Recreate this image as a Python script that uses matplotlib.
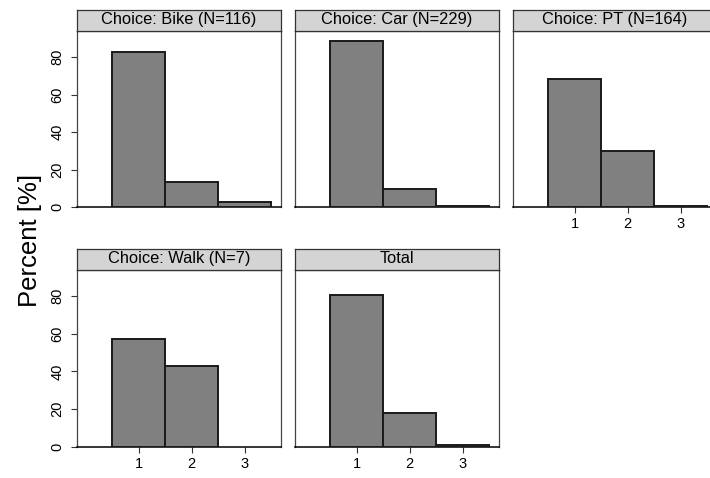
import matplotlib
matplotlib.use("Agg")
import matplotlib.pyplot as plt

# share of respondents per category (percent), one list per panel
categories = [1, 2, 3]
panel_titles = ["Choice: Bike (N=116)", "Choice: Car (N=229)", "Choice: PT (N=164)",
                "Choice: Walk (N=7)", "Total"]
bike = [82.6, 13.3, 2.9]
car = [88.9, 9.6, 0.5]
pt = [68.1, 30.0, 0.8]
walk = [57.1, 42.9, 0.0]
total = [80.5, 17.8, 1.2]
yticks = [0, 20, 40, 60, 80]

plt.rcParams['font.family'] = ['Liberation Sans', 'DejaVu Sans']

W, H = 710, 478
fig = plt.figure(figsize=(W / 100, H / 100), dpi=100)


def px_axes(x0, y0, x1, y1):
	return fig.add_axes([x0 / W, 1 - y1 / H, (x1 - x0) / W, (y1 - y0) / H])


cols = [(76.5, 281), (294.5, 499), (512.5, 717)]
rows = [(9.5, 31, 207), (248.5, 269.5, 447)]
# (values, col, row, show y ticks, show x ticks)
layout = [
	(bike, 0, 0, True, False),
	(car, 1, 0, False, False),
	(pt, 2, 0, False, True),
	(walk, 0, 1, True, True),
	(total, 1, 1, False, True),
]

for (vals, c, r, showy, showx), title in zip(layout, panel_titles):
	x0, x1 = cols[c]
	st, top, bot = rows[r]
	ax = px_axes(x0, top, x1, bot)
	bars = ax.bar(categories, vals, width=1.0, color='#808080', edgecolor='#1a1a1a',
		linewidth=1.4, zorder=3)
	for b, v in zip(bars, vals):
		if v == 0:
			b.set_linewidth(0)
	ax.set_xlim(-0.17, 3.68)
	ax.set_ylim(0, 94)
	for s in ['left', 'top', 'right']:
		ax.spines[s].set_color('#444444')
		ax.spines[s].set_linewidth(0.9)
	ax.spines['bottom'].set_color('#000000')
	ax.spines['bottom'].set_linewidth(1.1)
	ax.tick_params(direction='out', length=4.5, width=0.8, color='#333333',
		labelsize=10.5)
	if showy:
		ax.set_yticks(yticks)
		ax.set_yticklabels([str(v) for v in yticks], rotation=90, va='center')
		ax.tick_params(axis='y', pad=4)
	else:
		ax.set_yticks([])
	if showx:
		ax.set_xticks(categories)
		ax.tick_params(axis='x', pad=3)
	else:
		ax.set_xticks([])

	sax = px_axes(x0, st, x1, top)
	sax.set_facecolor('#d4d4d4')
	sax.set_xticks([])
	sax.set_yticks([])
	for s in sax.spines.values():
		s.set_color('#333333')
		s.set_linewidth(0.9)
	sax.text(0.5, 0.52, title, ha='center', va='center', fontsize=11.8,
		transform=sax.transAxes)

fig.text(30 / W, 1 - 240 / H, 'Percent [%]', rotation=90, ha='center', va='center',
	fontsize=18.5)

fig.savefig('out.png', dpi=100)
